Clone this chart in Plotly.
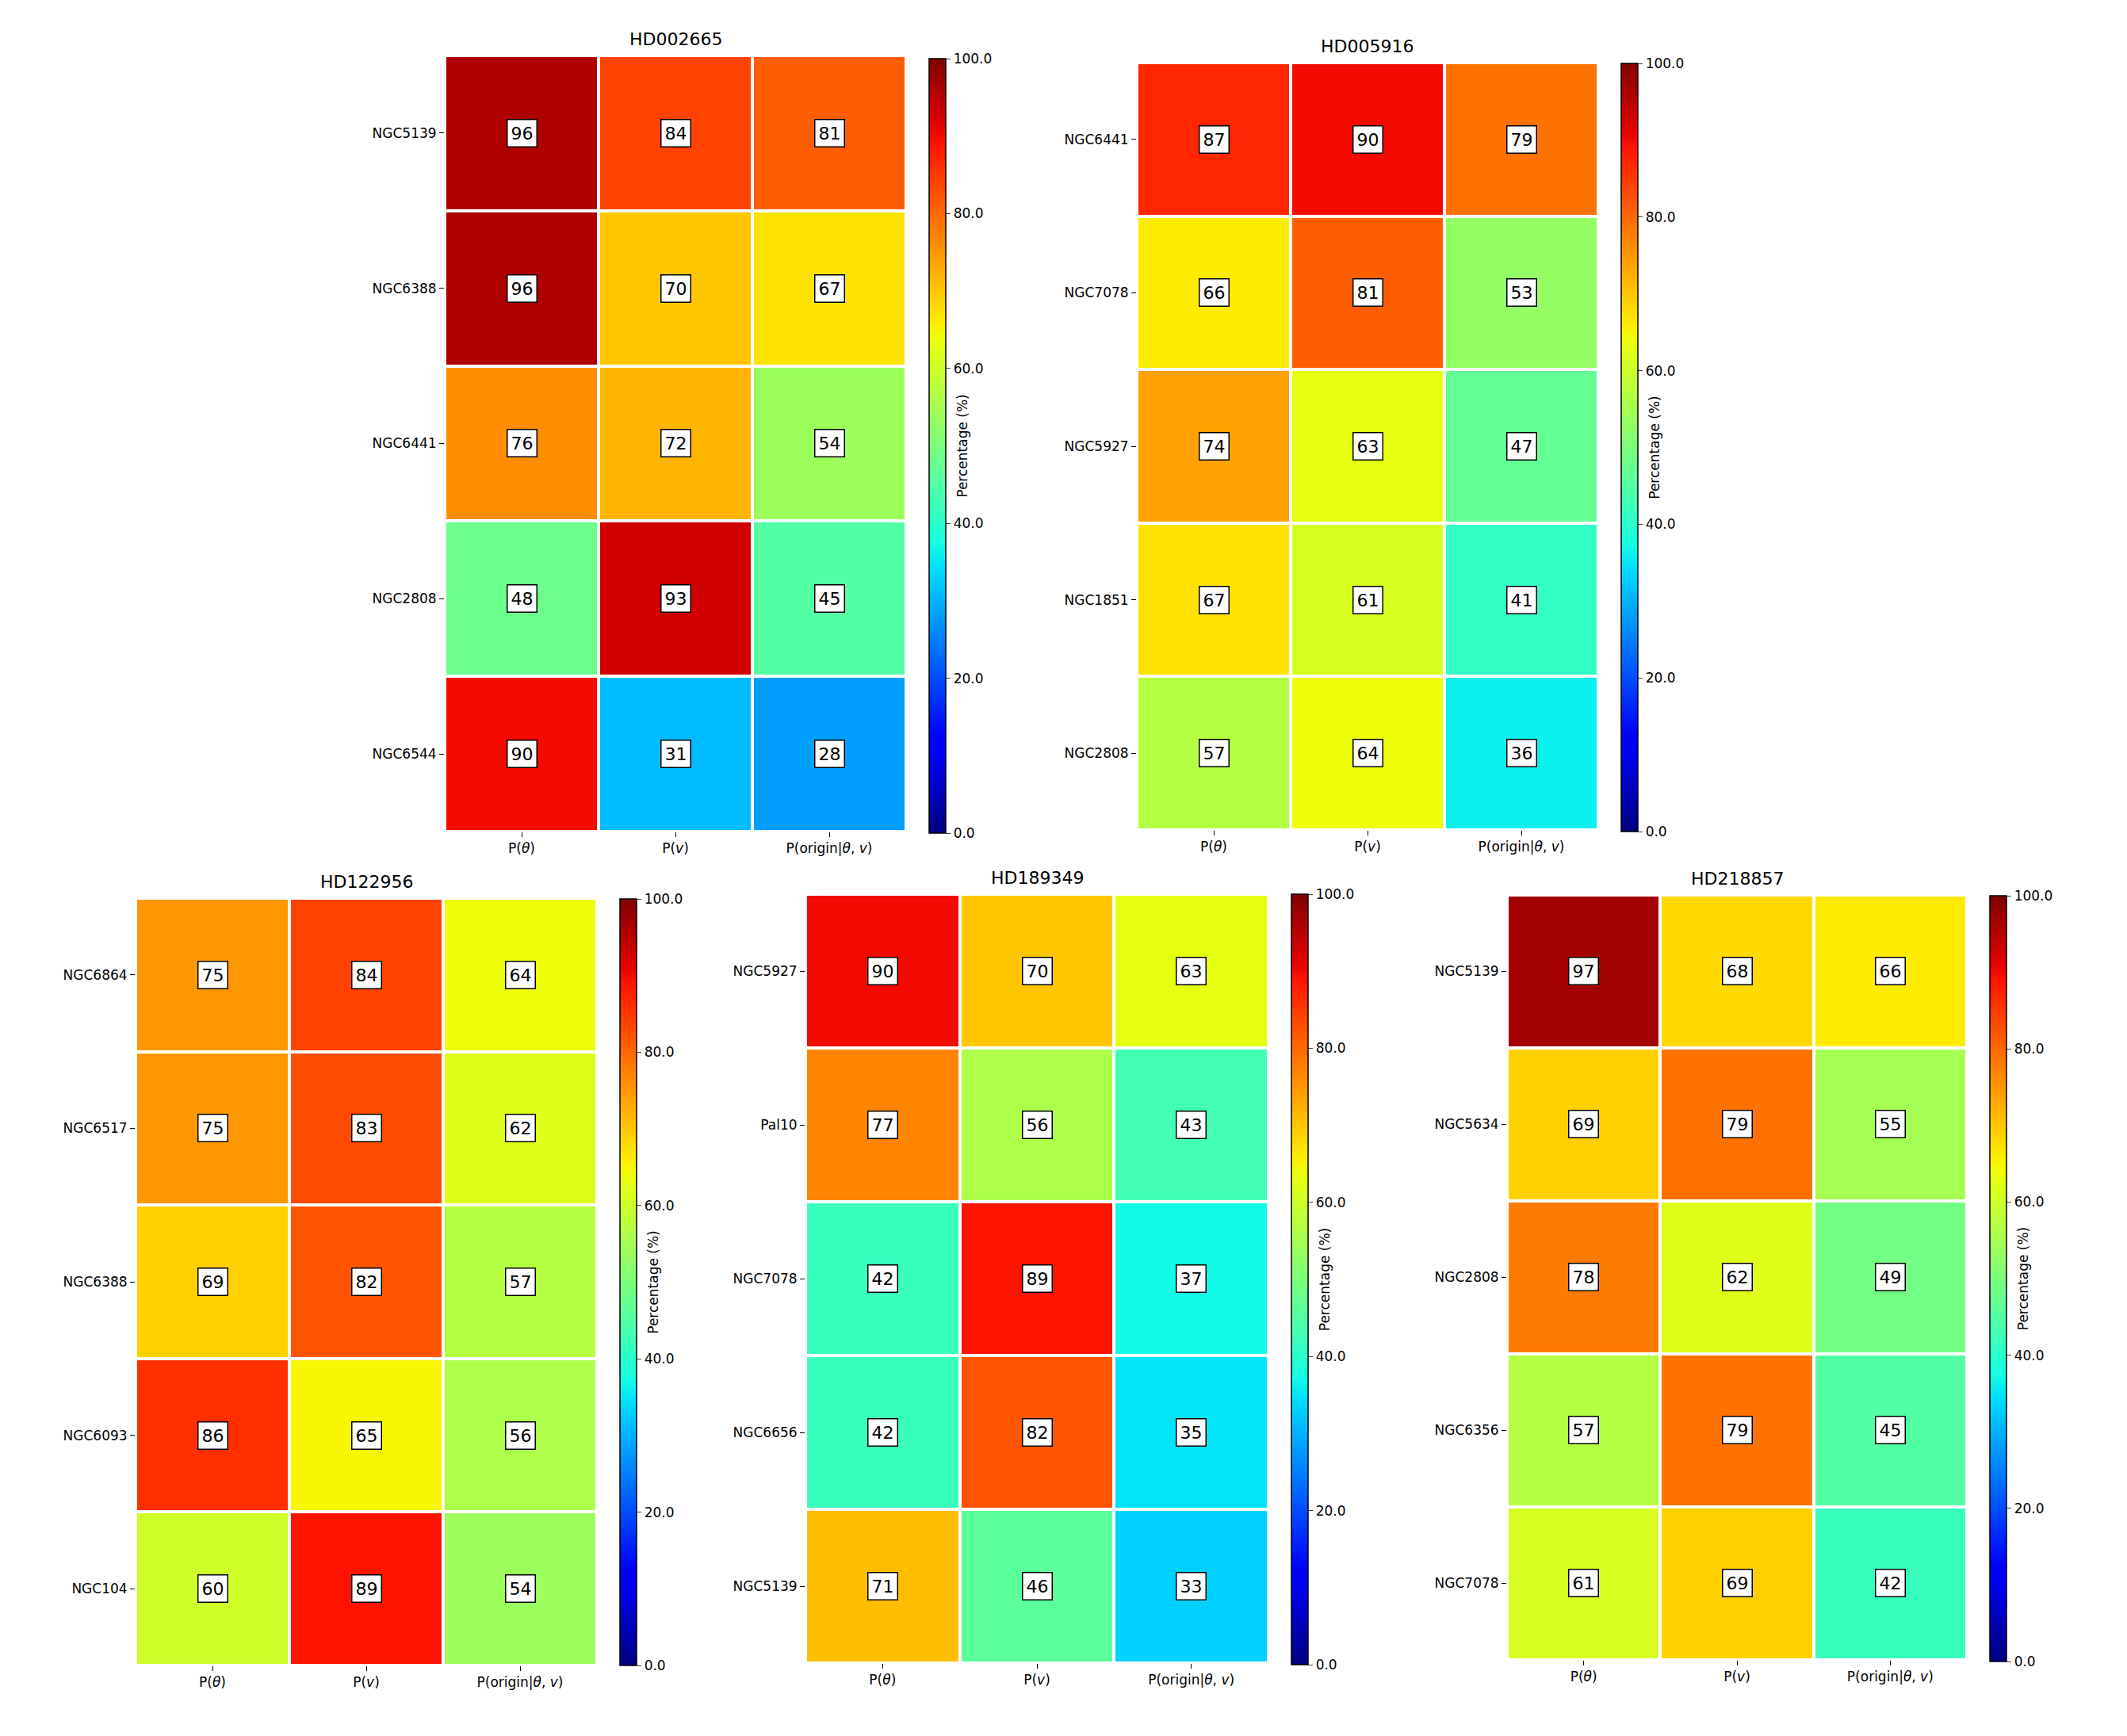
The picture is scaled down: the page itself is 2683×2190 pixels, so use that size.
import numpy as np
import plotly.graph_objects as go

W, H = 2683, 2190
OFF = 8  # default body margin of the html page
FW, FH = W - 2 * OFF, H - 2 * OFF

cols = ["P(<i>θ</i>)", "P(<i>v</i>)", "P(origin|<i>θ</i>, <i>v</i>)"]

titles = ["HD002665", "HD005916", "HD122956", "HD189349", "HD218857"]

rows_1 = ["NGC5139", "NGC6388", "NGC6441", "NGC2808", "NGC6544"]
vals_1 = [[96, 84, 81], [96, 70, 67], [76, 72, 54], [48, 93, 45], [90, 31, 28]]

rows_2 = ["NGC6441", "NGC7078", "NGC5927", "NGC1851", "NGC2808"]
vals_2 = [[87, 90, 79], [66, 81, 53], [74, 63, 47], [67, 61, 41], [57, 64, 36]]

rows_3 = ["NGC6864", "NGC6517", "NGC6388", "NGC6093", "NGC104"]
vals_3 = [[75, 84, 64], [75, 83, 62], [69, 82, 57], [86, 65, 56], [60, 89, 54]]

rows_4 = ["NGC5927", "Pal10", "NGC7078", "NGC6656", "NGC5139"]
vals_4 = [[90, 70, 63], [77, 56, 43], [42, 89, 37], [42, 82, 35], [71, 46, 33]]

rows_5 = ["NGC5139", "NGC5634", "NGC2808", "NGC6356", "NGC7078"]
vals_5 = [[97, 68, 66], [69, 79, 55], [78, 62, 49], [57, 79, 45], [61, 69, 42]]

cb_ticks = [0, 20, 40, 60, 80, 100]

# matplotlib jet colormap
def jet_scale(n=65):
    rseg = [(0, 0), (0.35, 0), (0.66, 1), (0.89, 1), (1, 0.5)]
    gseg = [(0, 0), (0.125, 0), (0.375, 1), (0.64, 1), (0.91, 0), (1, 0)]
    bseg = [(0, 0.5), (0.11, 1), (0.34, 1), (0.65, 0), (1, 0)]
    t = np.linspace(0, 1, n)
    def ch(seg):
        return np.interp(t, [s[0] for s in seg], [s[1] for s in seg])
    r, g, b = ch(rseg), ch(gseg), ch(bseg)
    return [[float(t[i]), f"rgb({int(round(r[i]*255))},{int(round(g[i]*255))},{int(round(b[i]*255))})"] for i in range(n)]

JET = jet_scale()

def px(x):
    return (x - OFF) / FW

def py(y):
    return 1 - (y - OFF) / FH

# panel pixel boxes: (x0, x1, y0, y1), colorbar (x0, y0, y1)
panels = [
    (rows_1, vals_1, (561, 1143, 70, 1049), (1172, 74, 1051)),
    (rows_2, vals_2, (1434, 2016, 79, 1047), (2045, 80, 1049)),
    (rows_3, vals_3, (171, 753, 1133, 2101), (782, 1134, 2101)),
    (rows_4, vals_4, (1016, 1600, 1128, 2098), (1629, 1128, 2100)),
    (rows_5, vals_5, (1901, 2481, 1129, 2094), (2510, 1130, 2096)),
]

FONT = "DejaVu Sans"
fig = go.Figure()
annotations = []
layout = {}

for i, (rows, vals, box, cb) in enumerate(panels):
    k = i + 1
    xa = "x" if k == 1 else f"x{k}"
    ya = "y" if k == 1 else f"y{k}"
    ca = "coloraxis" if k == 1 else f"coloraxis{k}"
    x0, x1, y0, y1 = box
    fig.add_trace(go.Heatmap(
        z=vals, x=cols, y=rows, coloraxis=ca, xaxis=xa, yaxis=ya,
        xgap=4, ygap=4, hoverongaps=False,
    ))
    layout["xaxis" if k == 1 else f"xaxis{k}"] = dict(
        domain=[px(x0), px(x1)], anchor=ya, showgrid=False, zeroline=False,
        ticks="outside", ticklen=6, tickcolor="black", showline=False,
        tickfont=dict(family=FONT, size=17, color="black"),
    )
    layout["yaxis" if k == 1 else f"yaxis{k}"] = dict(
        domain=[py(y1), py(y0)], anchor=xa, showgrid=False, zeroline=False,
        autorange="reversed", ticks="outside", ticklen=6, tickcolor="black",
        showline=False, tickfont=dict(family=FONT, size=17, color="black"),
    )
    cbx, cby0, cby1 = cb
    layout[ca] = dict(
        cmin=0, cmax=100, colorscale=JET,
        colorbar=dict(
            x=px(cbx), xanchor="left", y=py(cby0), yanchor="top",
            xpad=0, ypad=0,
            lenmode="pixels", len=cby1 - cby0, thickness=21,
            thicknessmode="pixels",
            outlinecolor="black", outlinewidth=1.5,
            tickvals=cb_ticks, tickformat=".1f", ticks="outside", ticklen=6,
            tickfont=dict(family=FONT, size=17, color="black"),
            title=dict(text="Percentage (%)", side="right",
                       font=dict(family=FONT, size=17, color="black")),
        ),
    )
    # title
    annotations.append(dict(
        text=titles[i], x=px((x0 + x1) / 2), y=py(y0 - 6),
        xref="paper", yref="paper", xanchor="center", yanchor="bottom",
        showarrow=False, font=dict(family=FONT, size=22, color="black"),
    ))
    for r, rname in enumerate(rows):
        for c, cname in enumerate(cols):
            annotations.append(dict(
                text=f"{vals[r][c]:.0f}", x=cname, y=rname, xref=xa, yref=ya,
                showarrow=False, font=dict(family=FONT, size=22, color="black"),
                bgcolor="white", bordercolor="black", borderwidth=1.5, borderpad=4,
            ))

fig.update_layout(
    width=FW, height=FH, margin=dict(l=0, r=0, t=0, b=0),
    paper_bgcolor="white", plot_bgcolor="white",
    annotations=annotations, showlegend=False, **layout,
)

fig.write_html("out.html")
